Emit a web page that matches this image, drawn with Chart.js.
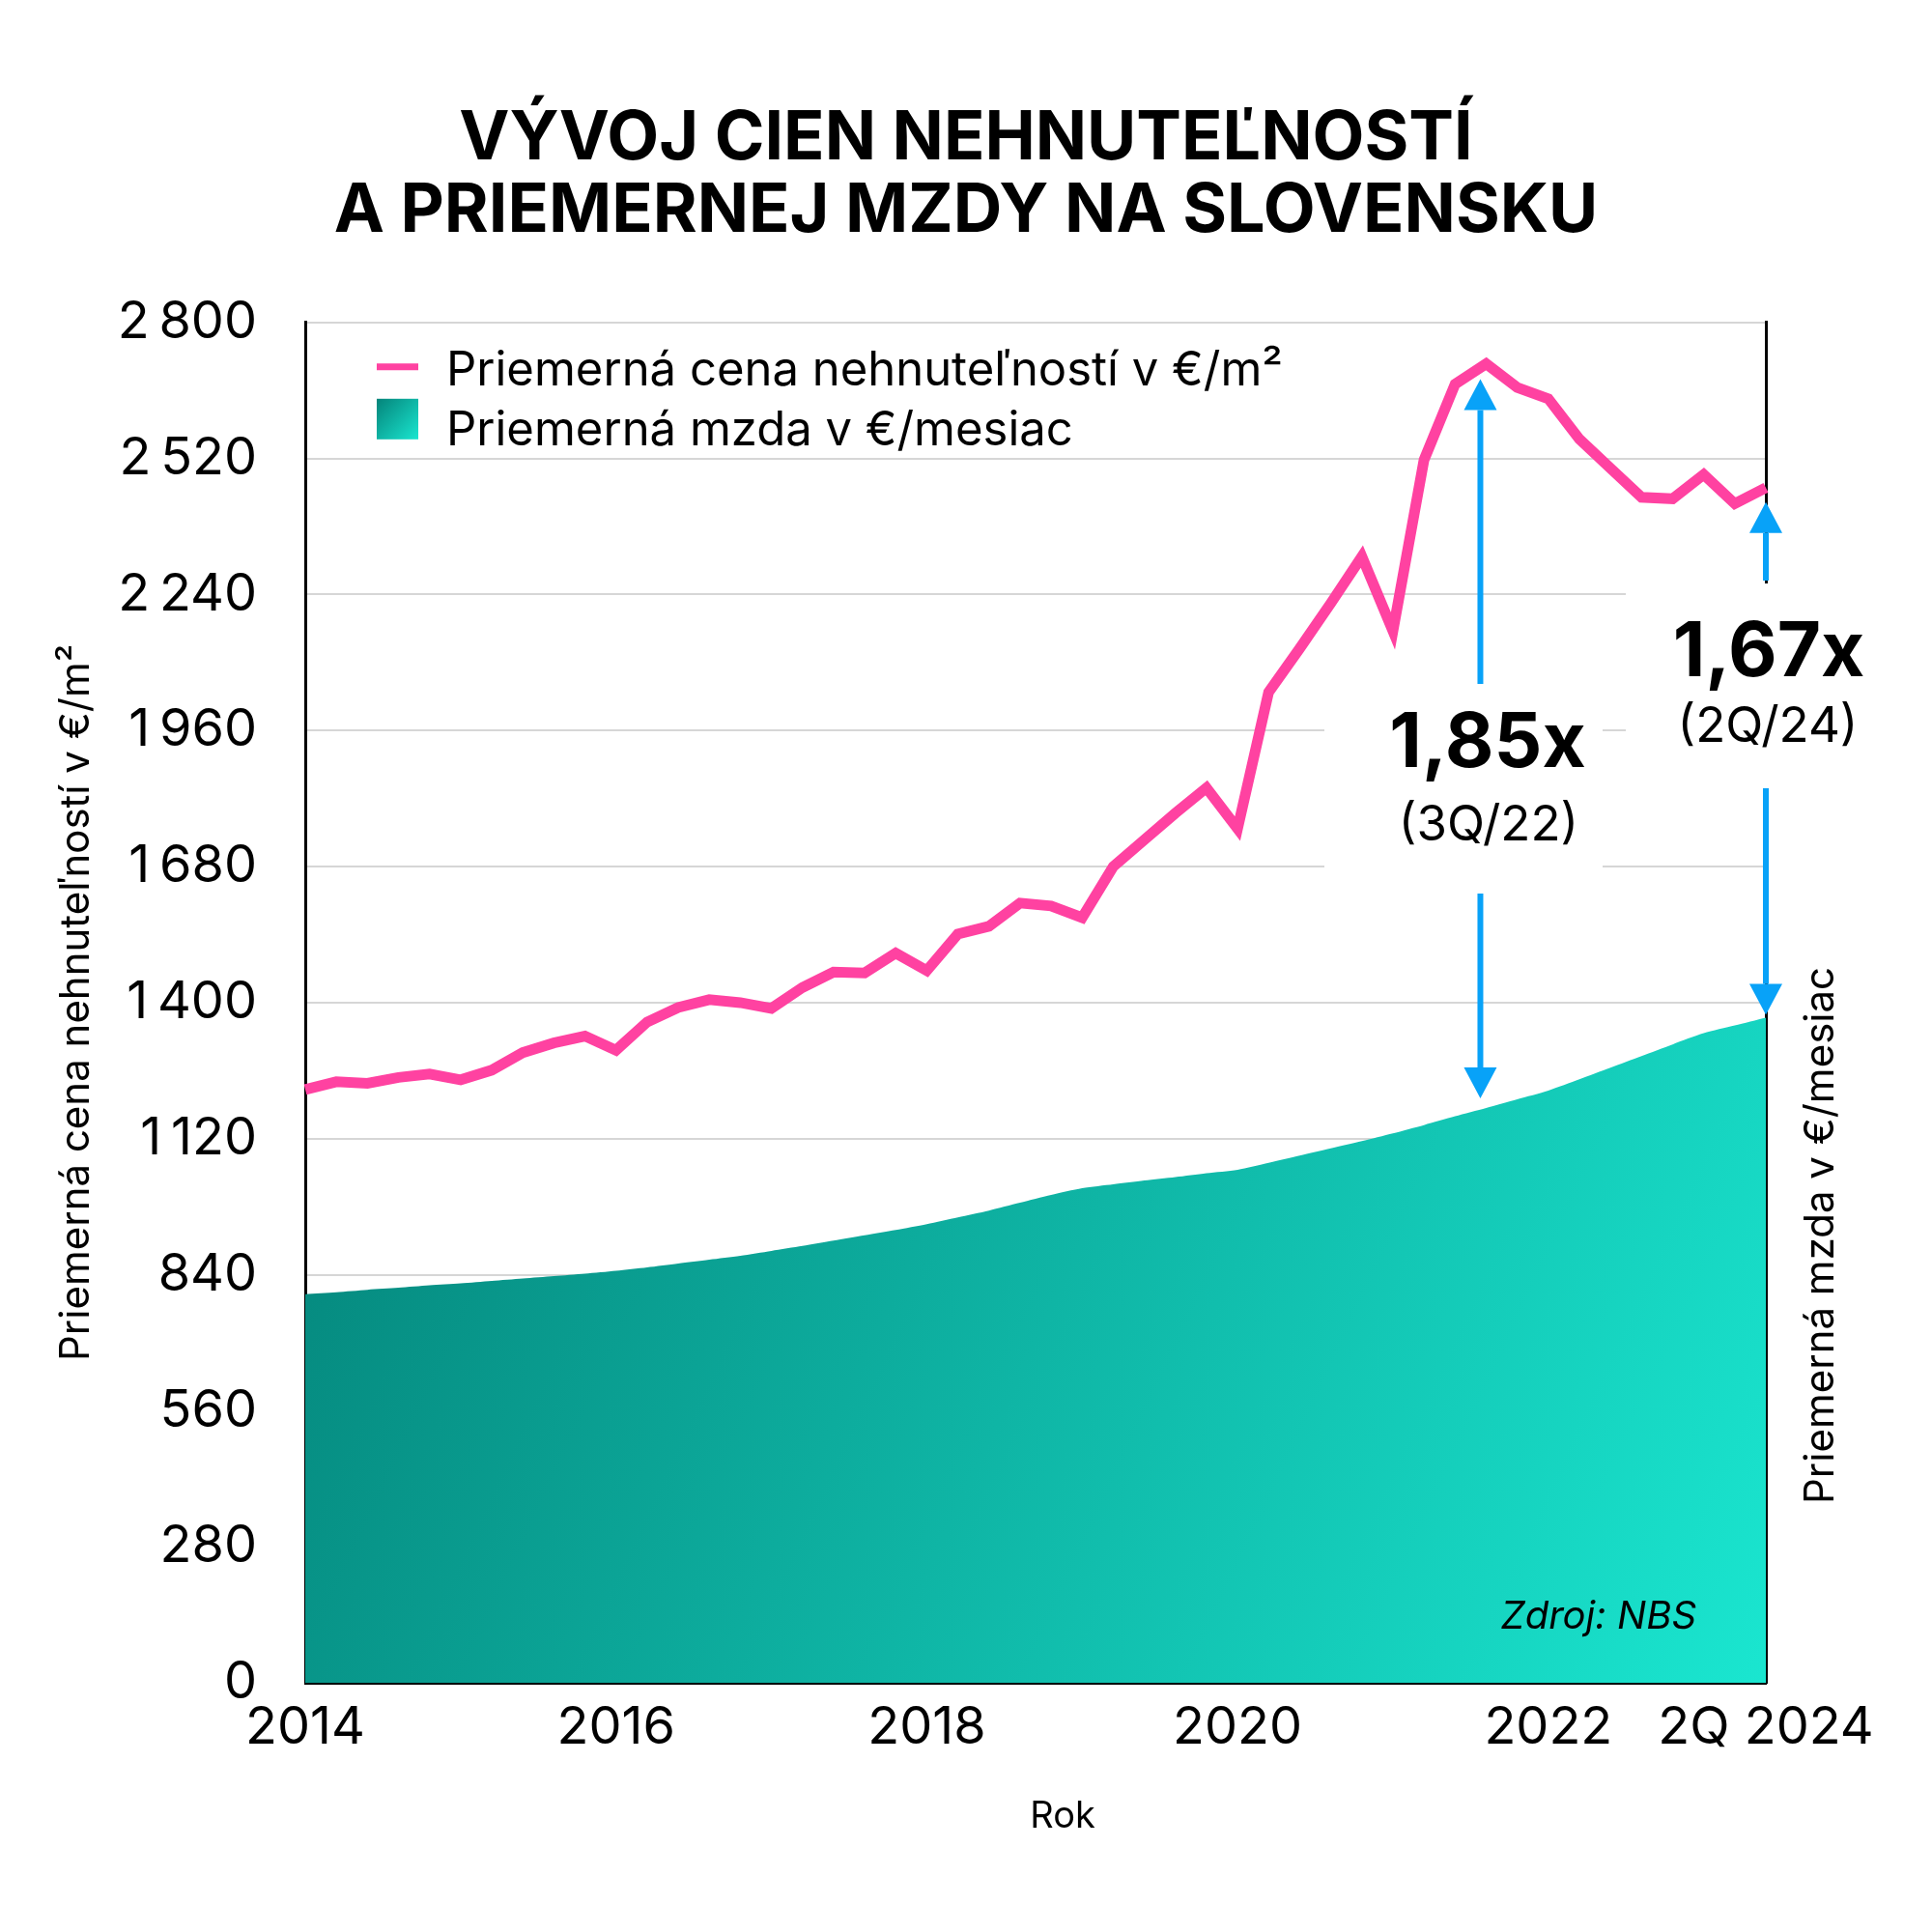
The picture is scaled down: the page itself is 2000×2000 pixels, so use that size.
<!DOCTYPE html>
<html>
<head>
<meta charset="utf-8">
<script src="https://cdn.jsdelivr.net/npm/chart.js@4.4.1/dist/chart.umd.min.js"></script>
<style>
  body { margin: 0; background: #fff; }
  #wrap { width: 2000px; height: 2000px; }
</style>
</head>
<body>
<div id="wrap"><canvas id="priceWageChart"></canvas></div>
<script>
// Vývoj cien nehnuteľností a priemernej mzdy (zdroj: NBS)
const titleLines = ['VÝVOJ CIEN NEHNUTEĽNOSTÍ', 'A PRIEMERNEJ MZDY NA SLOVENSKU'];

const xTickLabels = ['2014', '', '', '', '', '', '', '', '', '',
    '2016', '', '', '', '', '', '', '', '', '',
    '2018', '', '', '', '', '', '', '', '', '',
    '2020', '', '', '', '', '', '', '', '', '',
    '2022', '', '', '', '', '', '', '2Q 2024'];

// priemerná cena nehnuteľností v €/m2
const priceValues = [1221, 1237, 1234, 1246, 1253, 1241, 1261, 1297, 1317, 1331,
    1302, 1360, 1390, 1406, 1400, 1388, 1431, 1463, 1461, 1502,
    1466, 1541, 1557, 1605, 1599, 1575, 1680, 1735, 1790, 1842,
    1758, 2039, 2129, 2222, 2318, 2165, 2517, 2673, 2715, 2666,
    2643, 2560, 2500, 2440, 2437, 2487, 2427, 2460];

// priemerná mzda v €/mesiac
const wageValues = [800, 804, 809, 813, 818, 822, 827, 832, 837, 842,
    848, 855, 863, 871, 879, 889, 899, 910, 921, 932,
    944, 958, 972, 988, 1004, 1018, 1026, 1034, 1041, 1049,
    1056, 1070, 1085, 1100, 1115, 1131, 1148, 1166, 1183, 1201,
    1219, 1242, 1266, 1290, 1314, 1337, 1353, 1369];

const yTickValues = [0, 280, 560, 840, 1120, 1400, 1680, 1960, 2240, 2520, 2800];

const seriesNames = ['Priemerná cena nehnuteľností v €/m²', 'Priemerná mzda v €/mesiac'];
const peakIndex = 38;
const lastIndex = 47;

const PINK = '#ff42a1';
const BLUE = '#08a2f8';
const FONT = 'Inter';

function tealGradient(ctx, x0, y0, x1, y1) {
    const g = ctx.createLinearGradient(x0, y0, x1, y1);
    g.addColorStop(0, '#04847a');
    g.addColorStop(1, '#1ae6d0');
    return g;
}

function drawArrow(ctx, x, yStart, yTip) {
    const dir = yTip < yStart ? -1 : 1;
    const head = 32;
    ctx.beginPath();
    ctx.moveTo(x, yStart);
    ctx.lineTo(x, yTip - dir * head);
    ctx.stroke();
    ctx.beginPath();
    ctx.moveTo(x, yTip);
    ctx.lineTo(x - 17, yTip - dir * head);
    ctx.lineTo(x + 17, yTip - dir * head);
    ctx.closePath();
    ctx.fill();
}

const annotationPlugin = {
    id: 'annotationPlugin',
    beforeDatasetsDraw(chart) {
        // biele pozadie pod textami (prerušuje mriežku)
        const ctx = chart.ctx;
        const a = chart.chartArea;
        ctx.save();
        ctx.fillStyle = '#fff';
        ctx.fillRect(a.left + 1055, 712, 288, 192);
        ctx.fillRect(a.left + 1367, 604, 150, 226);
        ctx.restore();
    },
    afterDraw(chart) {
        const ctx = chart.ctx;
        const a = chart.chartArea;
        const xs = chart.scales.x;
        const ys = chart.scales.y;
        ctx.save();

        // legenda
        ctx.strokeStyle = PINK;
        ctx.lineWidth = 7;
        ctx.beginPath();
        ctx.moveTo(a.left + 74, a.top + 46);
        ctx.lineTo(a.left + 117, a.top + 46);
        ctx.stroke();
        ctx.fillStyle = tealGradient(ctx, a.left + 74, a.top + 79, a.left + 117, a.top + 121);
        ctx.fillRect(a.left + 74, a.top + 79, 43, 42);
        ctx.fillStyle = '#000';
        ctx.font = '49px ' + FONT;
        ctx.textAlign = 'left';
        ctx.textBaseline = 'alphabetic';
        ctx.fillText(seriesNames[0], a.left + 146, a.top + 65);
        ctx.fillText(seriesNames[1], a.left + 146, a.top + 127);

        // šípky
        ctx.strokeStyle = BLUE;
        ctx.fillStyle = BLUE;
        ctx.lineWidth = 6;
        const x1 = xs.getPixelForValue(peakIndex) - 6;
        drawArrow(ctx, x1, 708, ys.getPixelForValue(priceValues[peakIndex]) + 16);
        drawArrow(ctx, x1, 925, ys.getPixelForValue(wageValues[peakIndex]) - 10);
        const x2 = xs.getPixelForValue(lastIndex);
        drawArrow(ctx, x2, 601, ys.getPixelForValue(priceValues[lastIndex]) + 15);
        drawArrow(ctx, x2, 816, ys.getPixelForValue(wageValues[lastIndex]) - 3);

        // texty pomerov
        ctx.fillStyle = '#000';
        ctx.textAlign = 'center';
        ctx.textBaseline = 'alphabetic';
        ctx.font = '700 78px ' + FONT;
        ctx.fillText('1,85x', 1540, 794);
        ctx.fillText('1,67x', 1831, 700);
        ctx.font = '51px ' + FONT;
        ctx.fillText('(3Q/22)', 1541, 870);
        ctx.fillText('(2Q/24)', 1830, 768);

        // zdroj
        ctx.font = 'italic 40px ' + FONT;
        ctx.textAlign = 'right';
        ctx.fillText('Zdroj: NBS', 1756, 1686);

        // os x - nadpis
        ctx.textAlign = 'center';
        ctx.textBaseline = 'middle';
        ctx.font = '38px ' + FONT;
        ctx.fillText('Rok', 1100, 1881);

        // pravá os
        ctx.translate(1885, 1279);
        ctx.rotate(-Math.PI / 2);
        ctx.font = '42px ' + FONT;
        ctx.fillText(seriesNames[1], 0, 0);
        ctx.restore();
    }
};

const chartCtx = document.getElementById('priceWageChart');
new Chart(chartCtx, {
    type: 'line',
    data: {
        labels: xTickLabels,
        datasets: [{
            label: seriesNames[0],
            data: priceValues,
            borderColor: PINK,
            borderWidth: 11,
            borderJoinStyle: 'miter',
            pointRadius: 0,
            tension: 0,
            fill: false
        }, {
            label: seriesNames[1],
            data: wageValues,
            borderWidth: 0,
            pointRadius: 0,
            tension: 0.25,
            fill: 'origin',
            backgroundColor: (c) => {
                const a = c.chart.chartArea;
                if (!a) return '#0aa898';
                return tealGradient(c.chart.ctx, a.left, a.top + 700, a.right, a.bottom);
            }
        }]
    },
    options: {
        responsive: true,
        maintainAspectRatio: false,
        animation: false,
        layout: { padding: 0 },
        plugins: {
            legend: { display: false },
            tooltip: { enabled: false },
            title: {
                display: true,
                text: titleLines,
                color: '#000',
                font: { family: FONT, size: 70, weight: '700', lineHeight: 1.07 },
                padding: { top: 107, bottom: 77 }
            }
        },
        scales: {
            x: {
                offset: false,
                grid: { display: false, drawTicks: false },
                border: { display: true, color: '#000', width: 3 },
                ticks: {
                    autoSkip: false,
                    maxRotation: 0,
                    padding: 14,
                    color: '#000',
                    font: { family: FONT, size: 54 },
                    callback: (v, i) => xTickLabels[i]
                },
                afterFit: (s) => { s.height = 258; }
            },
            y: {
                min: 0,
                max: 2800,
                afterBuildTicks: (s) => { s.ticks = yTickValues.map(v => ({ value: v })); },
                grid: { color: '#d6d6d6', lineWidth: 2, drawTicks: false },
                border: { display: true, color: '#000', width: 3 },
                ticks: {
                    padding: 50,
                    color: '#000',
                    font: { family: FONT, size: 54 },
                    callback: (v) => v >= 1000 ? Math.floor(v / 1000) + '\u2009' + String(v % 1000).padStart(3, '0') : String(v)
                },
                title: {
                    display: true,
                    text: seriesNames[0],
                    color: '#000',
                    font: { family: FONT, size: 42 },
                    padding: { top: 54, bottom: 0 }
                },
                afterFit: (s) => { s.width = 316; }
            },
            y2: {
                position: 'right',
                min: 0,
                max: 2800,
                grid: { display: false, drawTicks: false },
                border: { display: true, color: '#000', width: 3 },
                ticks: { display: false },
                afterFit: (s) => { s.width = 172; }
            }
        }
    },
    plugins: [annotationPlugin]
});
</script>
</body>
</html>
